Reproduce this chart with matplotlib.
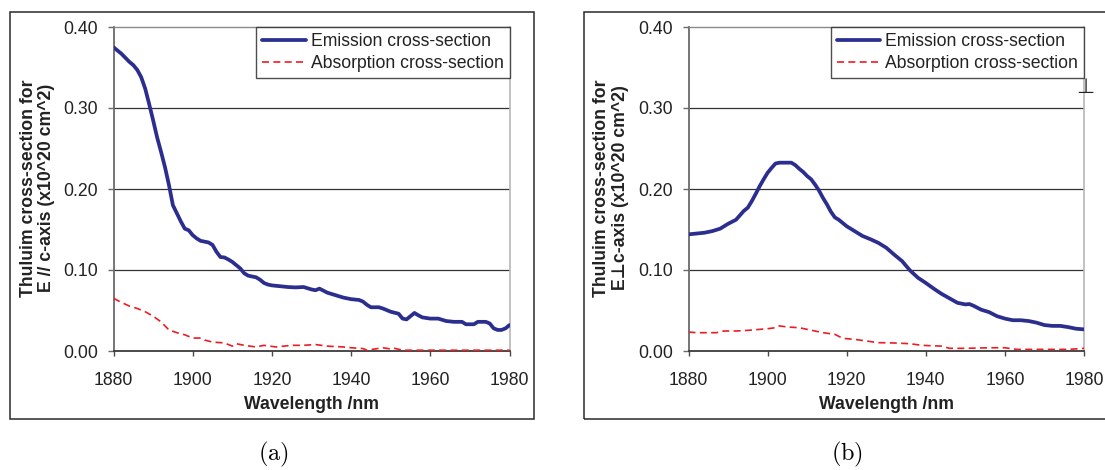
import matplotlib
matplotlib.use("Agg")
import matplotlib.pyplot as plt
from matplotlib.patches import Rectangle

plt.rcParams['font.family'] = ['Liberation Sans', 'DejaVu Sans']
plt.rcParams['mathtext.fontset'] = 'cm'

# ---- data: panel (a), E parallel to c-axis ----
wl_em_a = [1880, 1882, 1884, 1885, 1886, 1887, 1888, 1889, 1890, 1891, 1892, 1893,
           1894, 1895, 1896, 1897, 1898, 1899, 1900, 1901, 1902, 1903, 1904, 1905,
           1906, 1907, 1908, 1909, 1910, 1911, 1912, 1913, 1914, 1915, 1916, 1917,
           1918, 1919, 1920, 1922, 1924, 1926, 1928, 1930, 1931, 1932, 1934, 1936,
           1938, 1940, 1942, 1943, 1944, 1945, 1947, 1948, 1950, 1952, 1953, 1954,
           1955, 1956, 1957, 1958, 1960, 1962, 1964, 1966, 1968, 1969, 1971, 1972,
           1974, 1975, 1976, 1977, 1978, 1979, 1980]
em_a = [0.375, 0.367, 0.357, 0.353, 0.347, 0.338, 0.324, 0.305, 0.285, 0.264, 0.246, 0.227,
        0.205, 0.180, 0.170, 0.160, 0.151, 0.149, 0.143, 0.139, 0.136, 0.135, 0.134, 0.131,
        0.1225, 0.116, 0.1155, 0.113, 0.110, 0.106, 0.102, 0.096, 0.093, 0.092, 0.091, 0.088,
        0.084, 0.082, 0.081, 0.080, 0.079, 0.0785, 0.079, 0.076, 0.075, 0.077, 0.072, 0.069,
        0.066, 0.064, 0.063, 0.061, 0.057, 0.054, 0.054, 0.0525, 0.0485, 0.046, 0.040, 0.039,
        0.043, 0.047, 0.044, 0.0415, 0.040, 0.040, 0.037, 0.036, 0.036, 0.033, 0.033, 0.036,
        0.036, 0.034, 0.028, 0.026, 0.026, 0.028, 0.032]

wl_ab_a = [1880, 1882, 1884, 1886, 1888, 1890, 1892, 1894, 1896, 1898, 1900, 1902, 1903,
           1905, 1908, 1910, 1911, 1913, 1916, 1918, 1921, 1925, 1928, 1931, 1934, 1938,
           1940, 1943, 1944, 1948, 1950, 1951, 1953, 1960, 1970, 1980]
ab_a = [0.065, 0.060, 0.0555, 0.0525, 0.0485, 0.043, 0.036, 0.026, 0.0226, 0.020, 0.016,
        0.016, 0.0135, 0.011, 0.010, 0.006, 0.009, 0.007, 0.005, 0.007, 0.005, 0.007, 0.007,
        0.008, 0.006, 0.005, 0.004, 0.003, 0.001, 0.004, 0.0025, 0.0033, 0.001, 0.001, 0.001,
        0.001]

# ---- data: panel (b), E perpendicular to c-axis ----
wl_em_b = [1880, 1882, 1884, 1886, 1888, 1890, 1892, 1894, 1895, 1896, 1897, 1898, 1899,
           1900, 1901, 1902, 1903, 1906, 1907, 1908, 1909, 1910, 1911, 1912, 1913, 1914,
           1915, 1916, 1917, 1918, 1919, 1920, 1922, 1924, 1926, 1928, 1930, 1932, 1934,
           1936, 1938, 1940, 1942, 1944, 1946, 1948, 1950, 1951, 1952, 1954, 1956, 1958,
           1960, 1962, 1964, 1966, 1968, 1970, 1972, 1974, 1976, 1978, 1980]
em_b = [0.144, 0.145, 0.146, 0.148, 0.151, 0.157, 0.162, 0.173, 0.177, 0.185, 0.194, 0.2035,
        0.212, 0.220, 0.226, 0.2315, 0.2325, 0.2325, 0.2295, 0.225, 0.221, 0.216, 0.212,
        0.2055, 0.198, 0.189, 0.181, 0.172, 0.165, 0.162, 0.158, 0.154, 0.148, 0.142, 0.138,
        0.1335, 0.1275, 0.119, 0.111, 0.0995, 0.0905, 0.084, 0.077, 0.0705, 0.065, 0.0595,
        0.0575, 0.058, 0.056, 0.051, 0.048, 0.043, 0.040, 0.038, 0.038, 0.037, 0.035, 0.032,
        0.031, 0.031, 0.0295, 0.0275, 0.0267]

wl_ab_b = [1880, 1882, 1885, 1887, 1889, 1892, 1895, 1898, 1900, 1902, 1903, 1905, 1908,
           1910, 1914, 1917, 1919, 1922, 1925, 1928, 1932, 1936, 1939, 1944, 1946, 1950,
           1956, 1960, 1963, 1970, 1976, 1980]
ab_b = [0.0234, 0.0226, 0.0226, 0.0226, 0.0247, 0.0247, 0.0255, 0.0267, 0.0275, 0.0288,
        0.031, 0.0296, 0.0288, 0.0267, 0.0226, 0.0206, 0.0156, 0.0144, 0.0123, 0.0103,
        0.0099, 0.009, 0.007, 0.006, 0.0033, 0.0033, 0.004, 0.004, 0.002, 0.002, 0.002,
        0.0033]

x_ticks = [1880, 1900, 1920, 1940, 1960, 1980]
y_ticks = [0.0, 0.1, 0.2, 0.3, 0.4]
y_tick_labels = ['0.00', '0.10', '0.20', '0.30', '0.40']

series_labels = ['Emission cross-section', 'Absorption cross-section']
ylabels = ['Thuluim cross-section for\nE // c-axis (x10^20 cm^2)',
           'Thuluim cross-section for\nE\u22a5c-axis (x10^20 cm^2)']
xlabel = 'Wavelength /nm'
captions = [r'$\mathrm{(a)}$', r'$\mathrm{(b)}$']

W, H = 1105, 470
FS = 12.7
EM_COLOR = '#2B2E8E'
AB_COLOR = '#EC1C24'

fig = plt.figure(figsize=(W / 100, H / 100), dpi=100)


def px_rect(x0, x1, y_top, y_bot):
    return [x0 / W, 1 - y_bot / H, (x1 - x0) / W, (y_bot - y_top) / H]


def panel(rect, wl_em, em, wl_ab, ab, ylabel, ylab_x, caption, cap_x, box):
    # outer frame around the chart
    bx0, bx1, by0, by1 = box
    fig.patches.append(Rectangle((bx0 / W, 1 - by1 / H), (bx1 - bx0) / W, (by1 - by0) / H,
                                 transform=fig.transFigure, fill=False,
                                 edgecolor='#2a2a2a', linewidth=1.1, zorder=0))
    ax = fig.add_axes(rect)
    ax.set_xlim(1880, 1980)
    ax.set_ylim(0, 0.4)
    for y in (0.1, 0.2, 0.3):
        ax.axhline(y, color='#333333', linewidth=0.9, zorder=1)
    ax.plot(wl_em, em, color=EM_COLOR, linewidth=2.7, label=series_labels[0],
            zorder=3, solid_joinstyle='round', solid_capstyle='round')
    ax.plot(wl_ab, ab, color=AB_COLOR, linewidth=1.2, dashes=(4.2, 2.6),
            label=series_labels[1], zorder=3)

    ax.spines['left'].set_color('#6a6a6a')
    ax.spines['left'].set_linewidth(1.3)
    ax.spines['bottom'].set_color('#3a3a3a')
    ax.spines['bottom'].set_linewidth(1.3)
    ax.spines['top'].set_color('#8a8a8a')
    ax.spines['top'].set_linewidth(1.0)
    ax.spines['right'].set_color('#b8b8b8')
    ax.spines['right'].set_linewidth(1.2)

    ax.set_xticks(x_ticks)
    ax.set_yticks(y_ticks)
    ax.set_yticklabels(y_tick_labels)
    ax.tick_params(axis='x', direction='out', length=3.5, width=1.0, color='#4a4a4a',
                   pad=11.5, labelsize=FS, labelcolor='#222222')
    ax.tick_params(axis='y', direction='out', length=4.0, width=1.0, color='#6a6a6a',
                   pad=7, labelsize=FS, labelcolor='#222222')

    ax.set_xlabel(xlabel, fontsize=FS, fontweight='bold', color='#222222')
    ax.xaxis.set_label_coords(0.5, (351 - 396) / 324)
    ax.xaxis.label.set_va('top')

    fig.text(ylab_x / W, 1 - 188 / H, ylabel, rotation=90, ha='center', va='center',
             multialignment='center', fontsize=FS, fontweight='bold', color='#222222',
             linespacing=1.15)

    leg = ax.legend(loc='upper right', bbox_to_anchor=(1.0, 1.0), borderaxespad=0,
                    frameon=True, fancybox=False, fontsize=FS, handlelength=2.45,
                    handletextpad=0.3, borderpad=0.33, labelspacing=0.3)
    leg.get_frame().set_edgecolor('#222222')
    leg.get_frame().set_linewidth(1.0)
    for t in leg.get_texts():
        t.set_color('#222222')

    fig.text(cap_x / W, 1 - 454 / H, caption, ha='center', va='center', fontsize=17.5)
    return ax


panel(px_rect(113.5, 509.5, 27, 351), wl_em_a, em_a, wl_ab_a, ab_a, ylabels[0], 37.5,
      captions[0], 273, (9.5, 534, 12, 419))
ax_b = panel(px_rect(688.5, 1084, 27, 351), wl_em_b, em_b, wl_ab_b, ab_b, ylabels[1], 611,
             captions[1], 847, (584, 1110, 11.5, 419))

# small perpendicular sign at the right edge of panel (b)
fig.text(1085 / W, 1 - 93 / H, '\u22a5', ha='center', va='baseline', fontsize=15,
         color='#222222', family=['DejaVu Sans'])

fig.savefig('out.png', dpi=100)
